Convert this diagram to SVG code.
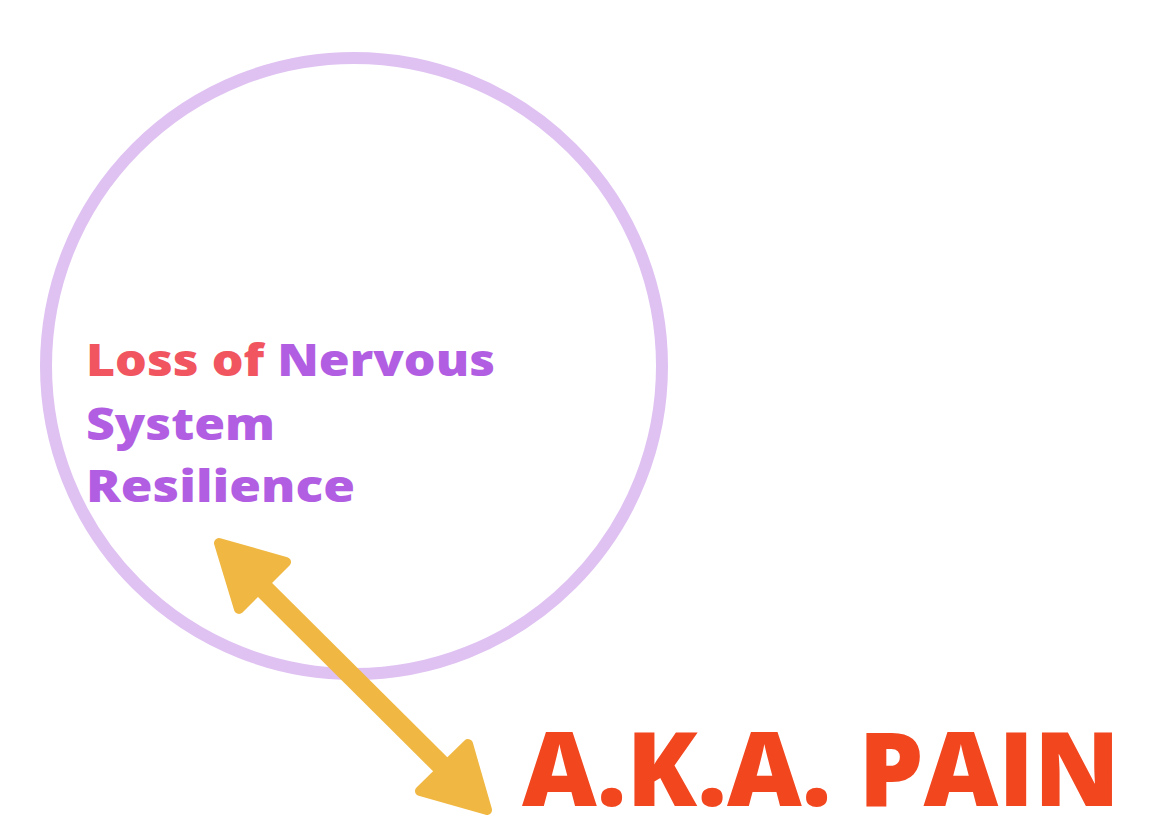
<svg xmlns="http://www.w3.org/2000/svg" width="1152" height="828" viewBox="0 0 1152 828">
<style>
.t{font-family:"Open Sans","Liberation Sans",sans-serif;font-weight:800;font-size:44px}
.r{fill:#f05560}.p{fill:#b25ee2}
.ah{fill:#f0b843;stroke:#f0b843;stroke-width:10;stroke-linejoin:round}
</style>
<rect width="1152" height="828" fill="#fff"/>
<g id="circle"><circle cx="354" cy="366" r="308" fill="none" stroke="#dfc2f2" stroke-width="12"/></g>
<g id="label">
<text class="t" x="86" y="376" textLength="409" lengthAdjust="spacingAndGlyphs"><tspan class="r">Loss of </tspan><tspan class="p">Nervous</tspan></text>
<text class="t p" x="86" y="440" textLength="189" lengthAdjust="spacingAndGlyphs">System</text>
<text class="t p" x="86" y="502" textLength="269" lengthAdjust="spacingAndGlyphs">Resilience</text>
</g>
<g id="pain"><text x="522" y="806" font-family="'Open Sans','Liberation Sans',sans-serif" font-weight="800" font-size="102" fill="#f2461f" textLength="598" lengthAdjust="spacingAndGlyphs">A.K.A. PAIN</text></g>
<g id="connectors">
<line x1="255" y1="580" x2="450" y2="774" stroke="#f0b843" stroke-width="20"/>
<polygon class="ah" points="219,543 286,562 239,609"/>
<polygon class="ah" points="487,810 420,791 468,744"/>
</g>
</svg>
